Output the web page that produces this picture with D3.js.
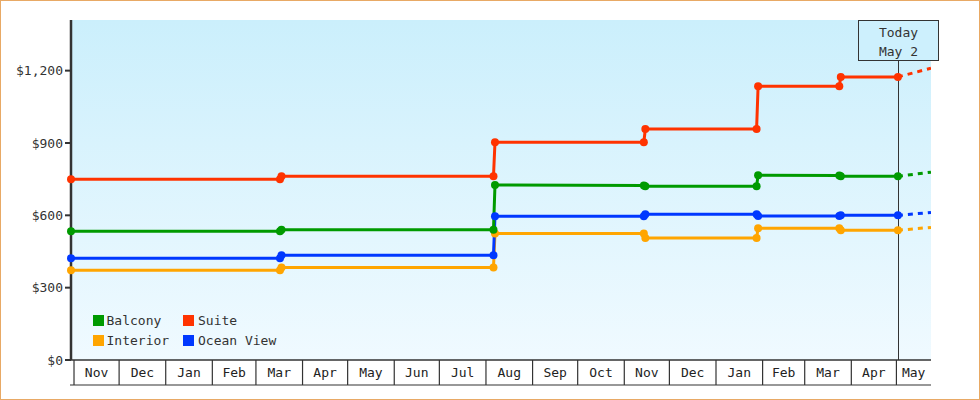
<!DOCTYPE html>
<html lang="en">
<head>
    <meta charset="UTF-8">
    <title>Cabin Price History</title>
    <style>
        body, html {
            margin: 0;
            padding: 0;
            background: #fff;
        }
        svg {
            display: block;
            font-family: 'DejaVu Sans Mono', monospace;
            font-size: 13px;
        }
        .frame { fill: #fff; stroke: #e8a965; stroke-width: 1px; }
        .axis-line { stroke: #333; stroke-width: 2.5px; }
        .tick-label { fill: #333; text-anchor: end; }
        .month-label { fill: #222; text-anchor: middle; }
        .price-line { fill: none; stroke-width: 3px; stroke-linejoin: round; }
        .projection { fill: none; stroke-width: 3px; stroke-dasharray: 5,5; }
        .legend-label { fill: #333; }
    </style>
</head>
<body>
    <div id="chart"></div>

    <script src="https://d3js.org/d3.v7.min.js"></script>
    <script>
        // Observation dates (shared by all cabin types)
        const dates = ["2023-10-30", "2024-03-17", "2024-03-18", "2024-08-06", "2024-08-07",
                       "2024-11-14", "2024-11-15", "2025-01-28", "2025-01-29", "2025-03-24",
                       "2025-03-25", "2025-05-02"];

        // Prices per cabin type
        const balcony   = [534, 534, 540, 540, 726, 724, 721, 721, 766, 765, 762, 762];
        const suite     = [750, 750, 762, 762, 903, 903, 958, 958, 1135, 1135, 1174, 1174];
        const interior  = [372, 372, 384, 384, 525, 525, 506, 506, 546, 546, 538, 538];
        const oceanView = [422, 422, 434, 434, 596, 596, 604, 604, 597, 597, 600, 600];

        // Projected price at the end of the window
        const projectionDate = "2025-05-24";
        const projected = { Balcony: 779, Suite: 1210, Interior: 550, "Ocean View": 612 };

        const todayDate = "2025-05-02";
        const todayLabel = ["Today", "May 2"];
        const domainStart = "2023-10-30";
        const domainEnd = "2025-05-24";
        const yTicks = [0, 300, 600, 900, 1200];

        const series = [
            {name: "Interior", values: interior, color: "#ffa500"},
            {name: "Ocean View", values: oceanView, color: "#0038ff"},
            {name: "Balcony", values: balcony, color: "#009a00"},
            {name: "Suite", values: suite, color: "#ff3300"}
        ];
        // legend order: Balcony, Suite / Interior, Ocean View
        const legendOrder = ["Balcony", "Suite", "Interior", "Ocean View"];

        const width = 980, height = 400;
        const plotLeft = 71, plotRight = 931, plotTop = 20, plotBottom = 360, bandBottom = 385;

        const parse = d3.utcParse("%Y-%m-%d");

        const x = d3.scaleUtc()
            .domain([parse(domainStart), parse(domainEnd)])
            .range([plotLeft, plotRight]);

        const y = d3.scaleLinear()
            .domain([0, 1410])
            .range([plotBottom, plotTop]);

        const svg = d3.select("#chart")
            .append("svg")
            .attr("width", width)
            .attr("height", height);

        svg.append("rect")
            .attr("class", "frame")
            .attr("x", 0.5).attr("y", 0.5)
            .attr("width", width - 1).attr("height", height - 1);

        const defs = svg.append("defs");
        const grad = defs.append("linearGradient")
            .attr("id", "bg")
            .attr("x1", 0).attr("y1", 0).attr("x2", 0).attr("y2", 1);
        grad.append("stop").attr("offset", "0%").attr("stop-color", "#cbeffc");
        grad.append("stop").attr("offset", "100%").attr("stop-color", "#f0faff");

        defs.append("clipPath").attr("id", "plot-clip")
            .append("rect")
            .attr("x", plotLeft).attr("y", plotTop)
            .attr("width", plotRight - plotLeft).attr("height", plotBottom - plotTop);

        // plot background
        svg.append("rect")
            .attr("x", plotLeft).attr("y", plotTop)
            .attr("width", plotRight - plotLeft).attr("height", plotBottom - plotTop)
            .attr("fill", "url(#bg)");

        // month band along the bottom
        const months = d3.utcMonth.range(d3.utcMonth.ceil(x.domain()[0]), x.domain()[1]);
        const band = svg.append("g");
        band.selectAll("line.sep")
            .data(months)
            .join("line")
            .attr("x1", d => x(d)).attr("x2", d => x(d))
            .attr("y1", plotBottom).attr("y2", bandBottom)
            .attr("stroke", "#333").attr("stroke-width", 1.2);
        band.selectAll("text")
            .data(months)
            .join("text")
            .attr("class", "month-label")
            .attr("x", d => {
                const a = Math.max(x(d), plotLeft);
                const b = Math.min(x(d3.utcMonth.offset(d, 1)), plotRight);
                return (a + b) / 2;
            })
            .attr("y", (plotBottom + bandBottom) / 2)
            .attr("dy", "0.35em")
            .text(d3.utcFormat("%b"));
        band.append("line")
            .attr("x1", plotLeft - 1).attr("x2", plotRight)
            .attr("y1", bandBottom).attr("y2", bandBottom)
            .attr("stroke", "#333").attr("stroke-width", 1.2);
        band.append("line")
            .attr("x1", plotLeft).attr("x2", plotRight)
            .attr("y1", plotBottom).attr("y2", plotBottom)
            .attr("stroke", "#333").attr("stroke-width", 1.5);

        // y axis
        svg.append("line")
            .attr("class", "axis-line")
            .attr("x1", plotLeft).attr("x2", plotLeft)
            .attr("y1", plotTop).attr("y2", plotBottom);
        const yg = svg.append("g");
        yg.selectAll("line")
            .data(yTicks)
            .join("line")
            .attr("x1", plotLeft - 6).attr("x2", plotLeft)
            .attr("y1", d => y(d)).attr("y2", d => y(d))
            .attr("stroke", "#333").attr("stroke-width", 2);
        yg.selectAll("text")
            .data(yTicks)
            .join("text")
            .attr("class", "tick-label")
            .attr("x", plotLeft - 8)
            .attr("y", d => y(d))
            .attr("dy", "0.35em")
            .text(d => "$" + d3.format(",")(d));

        // today marker
        const tx = Math.round(x(parse(todayDate))) + 0.5;
        svg.append("line")
            .attr("x1", tx).attr("x2", tx)
            .attr("y1", 60).attr("y2", plotBottom)
            .attr("stroke", "#333").attr("stroke-width", 1);

        // price lines
        const line = d3.line()
            .x(d => x(d.date))
            .y(d => y(d.value));

        const plot = svg.append("g").attr("clip-path", "url(#plot-clip)");

        series.forEach(s => {
            s.points = dates.map((d, i) => ({date: parse(d), value: s.values[i]}));
            const last = s.points[s.points.length - 1];
            plot.append("path")
                .attr("class", "projection")
                .attr("stroke", s.color)
                .attr("d", line([last, {date: parse(projectionDate), value: projected[s.name]}]));
            plot.append("path")
                .attr("class", "price-line")
                .attr("stroke", s.color)
                .attr("d", line(s.points));
        });

        series.forEach(s => {
            svg.append("g")
                .selectAll("circle")
                .data(s.points)
                .join("circle")
                .attr("cx", d => x(d.date))
                .attr("cy", d => y(d.value))
                .attr("r", 4)
                .attr("fill", s.color);
        });

        // today label box
        const box = svg.append("g");
        box.append("rect")
            .attr("x", tx - 40).attr("y", 20.5)
            .attr("width", 80).attr("height", 40)
            .attr("fill", "#cdf0fd")
            .attr("stroke", "#333").attr("stroke-width", 1);
        box.selectAll("text")
            .data(todayLabel)
            .join("text")
            .attr("x", tx)
            .attr("y", (d, i) => 32 + i * 19)
            .attr("dy", "0.35em")
            .attr("text-anchor", "middle")
            .attr("fill", "#333")
            .text(d => d);

        // legend
        const colorOf = name => series.find(s => s.name === name).color;
        const legend = svg.append("g")
            .selectAll("g")
            .data(legendOrder)
            .join("g")
            .attr("transform", (d, i) => `translate(${93 + (i % 2) * 90}, ${315 + Math.floor(i / 2) * 20})`);
        legend.append("rect")
            .attr("width", 11).attr("height", 11)
            .attr("fill", d => colorOf(d));
        legend.append("text")
            .attr("class", "legend-label")
            .attr("x", (d, i) => i % 2 ? 15 : 13.5)
            .attr("y", 5.5)
            .attr("dy", "0.35em")
            .text(d => d);
    </script>
</body>
</html>
